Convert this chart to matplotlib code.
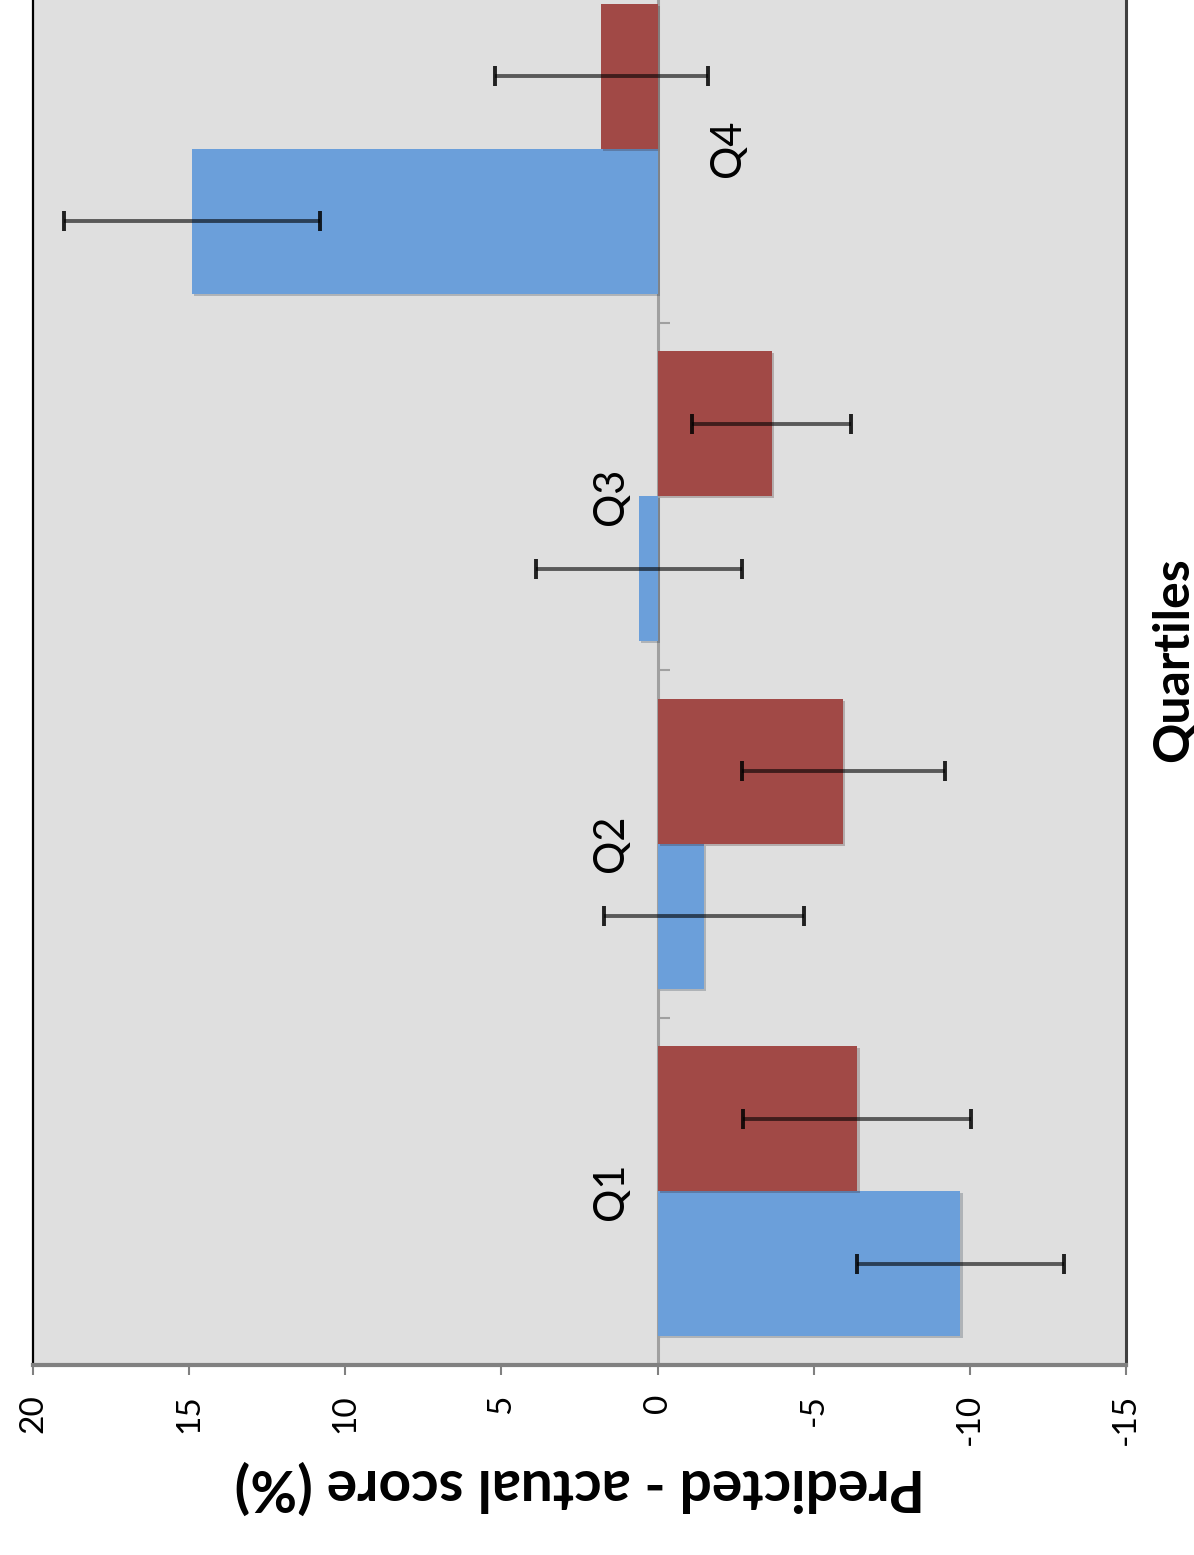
import numpy as np
import matplotlib
matplotlib.use('Agg')
import matplotlib.pyplot as plt
import matplotlib.patheffects as pe

# Values (predicted - actual, in %)
quartiles = ['Q1', 'Q2', 'Q3', 'Q4']
blue_vals = [-9.7, -1.5, 0.6, 14.9]
blue_err = [3.3, 3.2, 3.3, 4.1]
red_vals = [-6.4, -5.95, -3.65, 1.8]
red_err = [3.65, 3.25, 2.55, 3.4]
value_ticks = [20, 15, 10, 5, 0, -5, -10, -15]

plt.rcParams['font.family'] = ['Lato', 'DejaVu Sans']

fig = plt.figure(figsize=(11.94, 15.55), dpi=100)
# axes runs past the top edge, like the cropped original
ax = fig.add_axes([33 / 1194, 190 / 1555, 1093 / 1194, 1390 / 1555])
ax.set_facecolor('#dfdfdf')

pos = np.arange(len(quartiles))
h = 0.417
shadow = [pe.SimplePatchShadow(offset=(1.5, -1.5), alpha=0.25), pe.Normal()]

ax.axvline(0, color='#a0a0a0', lw=2.2, zorder=1)
ax.hlines(pos[:-1] + 0.5, 0, -0.4, color='#a0a0a0', lw=1.5, zorder=1)

bars1 = ax.barh(pos - h / 2, blue_vals, height=h, color='#6b9fda', zorder=2)
bars2 = ax.barh(pos + h / 2, red_vals, height=h, color='#a14946', zorder=2)
for b in list(bars1) + list(bars2):
    b.set_path_effects(shadow)

for vals, errs, off in [(blue_vals, blue_err, -h / 2), (red_vals, red_err, h / 2)]:
    _, caps, lines = ax.errorbar(vals, pos + off, xerr=errs, fmt='none',
                                 ecolor='black', elinewidth=2.8, capsize=7.5,
                                 capthick=2.8, zorder=3)
    for l in lines:
        l.set_alpha(0.6)
    for c in caps:
        c.set_alpha(0.85)

# category labels sit beside the zero line
for i, q in enumerate(quartiles):
    dx = 70 if i == 3 else -47
    ax.annotate(q, xy=(0, pos[i]), xytext=(dx, 0), textcoords='offset pixels',
                rotation=90, ha='center', va='center', fontsize=30, zorder=4)

ax.set_xlim(20, -15)
ax.set_ylim(-0.5, 3.5)
ax.set_xticks(value_ticks)
ax.set_xticklabels([str(t) for t in value_ticks], rotation=90, fontsize=24)
ax.tick_params(axis='x', length=7, width=1.5, color='#808080', pad=14)
ax.set_yticks([])

ax.spines['bottom'].set_color('#808080')
ax.spines['bottom'].set_linewidth(3)
ax.spines['left'].set_color('black')
ax.spines['left'].set_linewidth(1.6)
ax.spines['right'].set_color('#404040')
ax.spines['right'].set_linewidth(2.2)

ax.set_xlabel('Predicted - actual score (%)', rotation=180, fontsize=41,
              fontweight='bold', labelpad=10)
fig.text(1173 / 1194, 1 - 660 / 1555, 'Quartiles', rotation=90, ha='center',
         va='center', fontsize=36, fontweight='bold')

fig.savefig('out.png', dpi=100)
